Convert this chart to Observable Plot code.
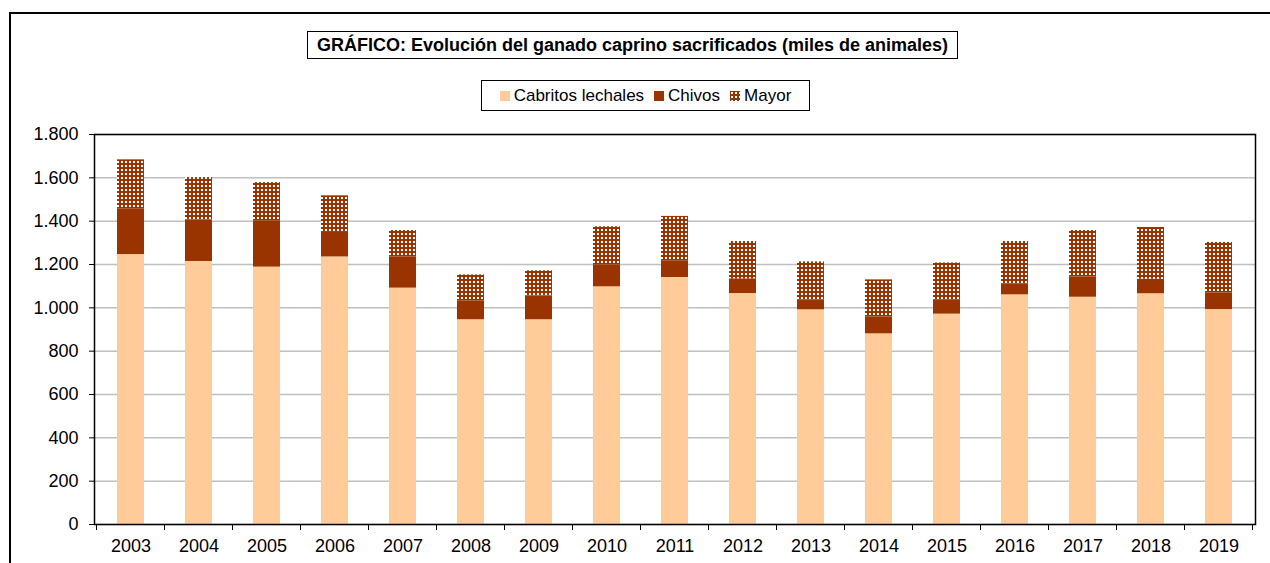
<!DOCTYPE html>
<html>
<head>
<meta charset="utf-8">
<script src="https://cdn.jsdelivr.net/npm/d3@7"></script>
<script src="https://cdn.jsdelivr.net/npm/@observablehq/plot@0.6"></script>
<style>
html, body { margin: 0; padding: 0; background: #fff; }
#wrap { position: relative; width: 1270px; height: 563px; overflow: hidden; font-family: "Liberation Sans", Arial, sans-serif; color: #000; }
#frame { position: absolute; left: 9px; top: 12px; width: 1300px; height: 600px; border-left: 2px solid #000; border-top: 2px solid #000; box-sizing: border-box; pointer-events: none; }
#title { position: absolute; left: 307px; top: 31px; width: 651px; height: 28px; border: 1.5px solid #000; box-sizing: border-box; display: flex; align-items: center; justify-content: center; font-weight: bold; font-size: 18px; white-space: nowrap; }
#legend { position: absolute; left: 481px; top: 80px; width: 329px; height: 31px; border: 1.5px solid #000; box-sizing: border-box; display: flex; align-items: center; justify-content: center; font-size: 17px; white-space: nowrap; }
#legend .item { display: flex; align-items: center; margin: 0 5px; }
#legend .sw { width: 10px; height: 10px; margin-right: 4px; display: inline-block; }
#chart { position: absolute; left: 0; top: 120px; }
</style>
</head>
<body>
<div id="wrap">
  <div id="title">GRÁFICO: Evolución del ganado caprino sacrificados (miles de animales)</div>
  <div id="legend"></div>
  <div id="chart"></div>
  <div id="frame"></div>
</div>
<script>
// ---- Data ----
const years = ["2003","2004","2005","2006","2007","2008","2009","2010","2011","2012","2013","2014","2015","2016","2017","2018","2019"];
const cabritos = [1246, 1214, 1188, 1235, 1091, 945, 945, 1097, 1140, 1066, 991, 880, 971, 1060, 1049, 1065, 992];
const chivos   = [211, 191, 212, 113, 143, 86, 110, 101, 77, 68, 46, 78, 64, 51, 93, 67, 77];
const mayor    = [226, 196, 178, 169, 123, 121, 116, 176, 205, 172, 175, 171, 172, 195, 215, 239, 233];
const seriesNames = ["Cabritos lechales", "Chivos", "Mayor"];
const seriesColors = ["#ffcc99", "#993300", "url(#mayorPattern)"];
const yTicks = [0, 200, 400, 600, 800, 1000, 1200, 1400, 1600, 1800];

// ---- Table ----
const rows = [];
[cabritos, chivos, mayor].forEach((arr, i) =>
  arr.forEach((v, j) => rows.push({year: years[j], series: seriesNames[i], value: v}))
);

const fmt = d3.formatLocale({decimal: ",", thousands: ".", grouping: [3], currency: ["", ""]}).format(",d");

// pattern defs
function patternDefs() {
  const defs = d3.create("svg:defs");
  const p = defs.append("pattern")
    .attr("id", "mayorPattern")
    .attr("patternUnits", "userSpaceOnUse")
    .attr("width", 4).attr("height", 4);
  p.append("rect").attr("width", 4).attr("height", 4).attr("fill", "#993300");
  p.append("rect").attr("x", 1).attr("y", 1).attr("width", 2).attr("height", 2).attr("fill", "#fff");
  return defs.node();
}

// category boundary ticks
function boundaryTicks(index, scales, values, dims) {
  const x = scales.x;
  const g = d3.create("svg:g").attr("stroke", "#000").attr("stroke-width", 1);
  const bw = x.bandwidth ? x.bandwidth() : 0;
  const step = x(years[1]) - x(years[0]);
  const y0 = dims.height - dims.marginBottom;
  const xs = years.map(y => x(y) + bw / 2 - step / 2);
  xs.push(x(years[years.length - 1]) + bw / 2 + step / 2);
  xs.forEach(px => g.append("line").attr("x1", px).attr("x2", px).attr("y1", y0).attr("y2", y0 + 6));
  return g.node();
}

const chart = Plot.plot({
  width: 1270,
  height: 443,
  marginTop: 14,
  marginBottom: 39,
  marginLeft: 94,
  marginRight: 15,
  style: {fontFamily: "'Liberation Sans', Arial, sans-serif", fontSize: "18px", color: "#000", background: "transparent"},
  x: {domain: years, paddingInner: 0.6, paddingOuter: 0.3, tickSize: 0, tickPadding: 15, label: null},
  y: {domain: [0, 1800], ticks: yTicks, tickFormat: fmt, tickSize: 5, tickPadding: 11, label: null},
  color: {domain: seriesNames, range: seriesColors},
  marks: [
    patternDefs,
    Plot.gridY(yTicks, {stroke: "#c0c0c0", strokeOpacity: 1, strokeWidth: 1.5}),
    Plot.barY(rows, {x: "year", y: "value", fill: "series"}),
    Plot.frame({stroke: "#000", strokeWidth: 1.5}),
    boundaryTicks
  ]
});
document.getElementById("chart").appendChild(chart);

// ---- Legend ----
const legend = document.getElementById("legend");
seriesNames.forEach((name, i) => {
  const item = document.createElement("span");
  item.className = "item";
  let sw;
  if (i === 2) {
    sw = `<svg class="sw" width="10" height="10" viewBox="0 0 10 10"><defs><pattern id="legPat" patternUnits="userSpaceOnUse" width="4" height="4"><rect width="4" height="4" fill="#993300"/><rect x="1" y="1" width="2" height="2" fill="#fff"/></pattern></defs><rect width="10" height="10" fill="url(#legPat)"/></svg>`;
  } else {
    sw = `<span class="sw" style="background:${seriesColors[i]}"></span>`;
  }
  item.innerHTML = sw + `<span>${name}</span>`;
  legend.appendChild(item);
});
</script>
</body>
</html>
